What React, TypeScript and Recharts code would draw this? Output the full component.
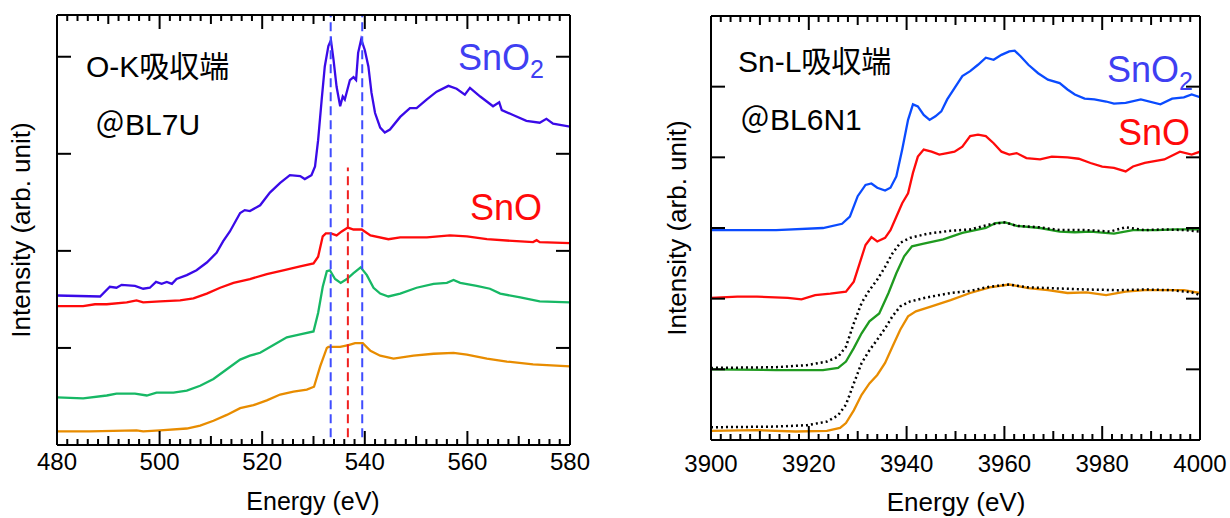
import { Line, LineChart, ReferenceLine, XAxis, YAxis } from "recharts";

const FONT = '"Liberation Sans", Arial, "Noto Sans CJK JP", sans-serif';
const INK = "#000";

// ---- O-K edge (left) ----
const OK_X_DOMAIN = [480, 580];
const OK_Y_DOMAIN = [0, 4.43];
const OK_Y_TICKS = [1, 2, 3, 4];
const OK_SNO2_PEAKS = [533.35, 539.5];
const OK_SNO_PEAK = 536.7;

const okSnO2: [number, number][] = [
  [480, 1.54], [488.4, 1.53], [490.3, 1.63], [491.6, 1.62], [492.6, 1.65], [495.2, 1.64], [496.8, 1.61],
  [498.1, 1.62], [499.3, 1.68], [500.4, 1.66], [501.4, 1.68], [502.4, 1.66], [503.3, 1.71], [505.3, 1.75],
  [507.2, 1.8], [509.2, 1.88], [511.1, 1.98], [512.4, 2.1], [513.7, 2.2], [515.7, 2.39], [516.6, 2.42],
  [517.6, 2.41], [519.6, 2.47], [521.5, 2.6], [523.5, 2.7], [525.4, 2.78], [527.4, 2.77], [528.3, 2.74],
  [529.6, 2.78], [530.3, 2.87], [530.9, 3.14], [531.6, 3.56], [532.2, 3.9], [532.9, 4.11], [533.4, 4.17],
  [533.9, 3.97], [534.5, 3.69], [535.2, 3.49], [535.7, 3.59], [536.1, 3.56], [537.1, 3.76], [537.8, 3.79],
  [538.3, 3.76], [538.7, 4.04], [539.3, 4.18], [540.0, 4.07], [540.7, 3.9], [541.3, 3.63], [542.0, 3.42],
  [543.0, 3.27], [543.9, 3.22], [544.9, 3.25], [546.9, 3.38], [548.8, 3.47], [550.1, 3.47], [552.1, 3.56],
  [554.0, 3.64], [556.3, 3.7], [557.9, 3.67], [559.5, 3.61], [560.5, 3.68], [562.5, 3.59], [565.0, 3.49],
  [566.2, 3.53], [566.7, 3.45], [568.9, 3.4], [571.5, 3.34], [574.1, 3.32], [575.4, 3.36], [576.7, 3.31],
  [580, 3.28],
];
const okSnO: [number, number][] = [
  [480, 1.43], [485.1, 1.43], [487.4, 1.45], [489.7, 1.45], [493.6, 1.47], [495.5, 1.49], [496.8, 1.47],
  [500.1, 1.48], [504.0, 1.49], [506.6, 1.51], [509.2, 1.56], [511.8, 1.62], [514.4, 1.67], [517.6, 1.71],
  [520.9, 1.76], [524.1, 1.8], [527.4, 1.84], [530.0, 1.87], [530.9, 1.94], [531.8, 2.15], [532.4, 2.18],
  [533.4, 2.18], [534.5, 2.16], [535.5, 2.2], [536.7, 2.24], [537.8, 2.22], [539.4, 2.22], [541.1, 2.16],
  [544.6, 2.12], [546.9, 2.14], [552.1, 2.14], [556.6, 2.16], [559.9, 2.15], [563.8, 2.12], [569.6, 2.1],
  [572.8, 2.09], [573.5, 2.11], [574.1, 2.09], [580, 2.08],
];
const okSampleA: [number, number][] = [
  [480, 0.49], [485.1, 0.48], [489.7, 0.51], [491.6, 0.53], [495.2, 0.53], [497.5, 0.51], [499.4, 0.54],
  [502.7, 0.54], [505.3, 0.56], [507.9, 0.61], [510.5, 0.68], [513.1, 0.78], [515.7, 0.88], [517.6, 0.92],
  [519.6, 0.95], [522.2, 1.03], [524.8, 1.11], [527.4, 1.14], [530.0, 1.17], [530.9, 1.36], [531.8, 1.63],
  [532.6, 1.79], [533.2, 1.8], [534.2, 1.71], [535.3, 1.67], [536.5, 1.71], [537.8, 1.77], [539.2, 1.83],
  [540.4, 1.75], [541.7, 1.62], [543.0, 1.56], [544.6, 1.53], [546.9, 1.56], [550.1, 1.62], [553.4, 1.66],
  [556.0, 1.67], [557.3, 1.7], [558.6, 1.67], [561.8, 1.64], [564.4, 1.61], [566.4, 1.56], [570.3, 1.52],
  [574.1, 1.48], [580, 1.47],
];
const okSampleB: [number, number][] = [
  [480, 0.14], [486.4, 0.14], [495.5, 0.15], [496.8, 0.14], [500.1, 0.15], [505.3, 0.17], [507.9, 0.2],
  [510.5, 0.25], [513.1, 0.31], [515.7, 0.38], [518.3, 0.41], [520.9, 0.46], [523.5, 0.52], [526.1, 0.55],
  [528.7, 0.57], [530.1, 0.6], [531.3, 0.81], [532.6, 1.0], [532.9, 1.01], [535.2, 1.01], [536.8, 1.03],
  [538.1, 1.05], [539.6, 1.05], [541.1, 0.97], [543.0, 0.92], [545.6, 0.89], [549.5, 0.92], [553.4, 0.94],
  [557.3, 0.95], [559.9, 0.93], [563.8, 0.89], [567.7, 0.86], [572.8, 0.83], [580, 0.81],
];

// ---- Sn-L edge (right) ----
const SNL_X_DOMAIN = [3900, 4000];
const SNL_Y_DOMAIN = [0, 6];
const SNL_Y_TICKS = [1, 2, 3, 4, 5];

const snlSnO2: [number, number][] = [
  [3900, 2.97], [3913.3, 2.97], [3922.9, 3.0], [3926.8, 3.06], [3928.4, 3.16], [3930, 3.45], [3931.6, 3.61],
  [3932.8, 3.63], [3934, 3.57], [3935.6, 3.53], [3936.7, 3.57], [3937.9, 3.73], [3939.1, 4.11], [3940.3, 4.53],
  [3941.3, 4.75], [3942.3, 4.72], [3943.5, 4.6], [3944.7, 4.53], [3945.9, 4.58], [3947.1, 4.65], [3948.3, 4.82],
  [3949.8, 4.98], [3951.4, 5.15], [3953, 5.22], [3954.6, 5.31], [3956.2, 5.41], [3957.8, 5.38], [3959.4, 5.45],
  [3961, 5.5], [3962.1, 5.51], [3963.3, 5.43], [3964.9, 5.31], [3966.9, 5.19], [3968.9, 5.1], [3971.3, 5.05],
  [3972.9, 4.96], [3974.4, 4.89], [3976.4, 4.83], [3978.4, 4.82], [3980.8, 4.79], [3982.4, 4.76], [3984.8, 4.77],
  [3987.9, 4.82], [3991.9, 4.75], [3994.3, 4.83], [3996.7, 4.85], [3998.3, 4.89], [4000, 4.85],
];
const snlSnO: [number, number][] = [
  [3900, 2.01], [3905.4, 2.03], [3909.4, 2.03], [3915.7, 2.01], [3918.5, 1.99], [3921.3, 2.05], [3924.4, 2.07],
  [3927.6, 2.1], [3929.2, 2.24], [3930.4, 2.5], [3931.6, 2.76], [3932.8, 2.87], [3934, 2.81], [3935.6, 2.86],
  [3936.7, 2.97], [3937.9, 3.16], [3939.1, 3.35], [3940.3, 3.49], [3941.3, 3.78], [3942.3, 4.01], [3943.5, 4.11],
  [3945.1, 4.08], [3946.7, 4.04], [3948.3, 4.06], [3949.8, 4.08], [3951.4, 4.15], [3953, 4.3], [3954.6, 4.32],
  [3956.2, 4.3], [3957.8, 4.2], [3959.4, 4.08], [3961, 4.04], [3962.5, 4.06], [3964.5, 3.99], [3967.3, 3.97],
  [3969.7, 4.01], [3972.9, 4.0], [3975.2, 3.98], [3977.6, 3.92], [3980, 3.87], [3982.4, 3.85], [3984.8, 3.8],
  [3986.3, 3.87], [3988.7, 3.92], [3992.7, 3.97], [3995.9, 4.08], [3998.3, 4.04], [4000, 4.08],
];
const snlSampleA: [number, number][] = [
  [3900, 1.0], [3913.3, 0.99], [3922.9, 0.99], [3926, 1.02], [3927.6, 1.11], [3929.2, 1.3], [3930.8, 1.51],
  [3932.4, 1.68], [3934.4, 1.79], [3936.3, 2.08], [3937.9, 2.36], [3939.5, 2.6], [3941.1, 2.74], [3943.5, 2.78],
  [3947.5, 2.84], [3951.4, 2.93], [3956.2, 3.0], [3958.2, 3.07], [3960.2, 3.08], [3962.5, 3.03], [3967.3, 3.0],
  [3971.3, 2.95], [3974.4, 2.94], [3977.6, 2.95], [3982.4, 2.92], [3986.3, 2.97], [3991.1, 2.97], [3995.1, 2.98],
  [4000, 2.98],
];
const snlRefA: [number, number][] = [
  [3900, 1.02], [3913.3, 1.03], [3919.7, 1.06], [3923.7, 1.11], [3926, 1.18], [3927.6, 1.32], [3929.2, 1.65],
  [3930.8, 1.94], [3932.4, 2.12], [3934, 2.27], [3935.6, 2.45], [3937.1, 2.64], [3938.7, 2.79], [3940.7, 2.86],
  [3944.3, 2.92], [3949, 2.96], [3953, 2.98], [3957, 3.05], [3960.2, 3.08], [3962.5, 3.03], [3967.3, 3.01],
  [3971.3, 2.97], [3976.8, 2.97], [3981.6, 2.95], [3984.8, 3.01], [3988.7, 2.97], [3992.7, 2.98], [3996.7, 2.97],
  [4000, 2.95],
];
const snlSampleB: [number, number][] = [
  [3900, 0.13], [3909.4, 0.14], [3917.3, 0.12], [3923.7, 0.13], [3926.4, 0.17], [3927.6, 0.24], [3929.2, 0.42],
  [3930.8, 0.64], [3932.4, 0.8], [3934, 0.92], [3935.6, 1.09], [3937.1, 1.32], [3938.7, 1.56], [3940.3, 1.75],
  [3941.9, 1.82], [3945.1, 1.89], [3949, 1.98], [3953, 2.08], [3957, 2.16], [3961, 2.2], [3964.9, 2.15],
  [3968.9, 2.12], [3972.9, 2.08], [3976.8, 2.09], [3980.8, 2.05], [3984.8, 2.1], [3988.7, 2.12], [3992.7, 2.12],
  [3996.7, 2.12], [4000, 2.08],
];
const snlRefB: [number, number][] = [
  [3900, 0.18], [3913.3, 0.19], [3919.7, 0.21], [3923.7, 0.26], [3926, 0.35], [3927.6, 0.5], [3929.2, 0.8],
  [3930.8, 1.09], [3932.4, 1.27], [3934, 1.42], [3935.6, 1.58], [3937.1, 1.75], [3938.7, 1.89], [3940.7, 1.96],
  [3944.3, 2.02], [3949, 2.08], [3953, 2.11], [3957, 2.17], [3961, 2.2], [3964.9, 2.16], [3968.9, 2.15],
  [3976.8, 2.13], [3983.2, 2.12], [3988.7, 2.13], [3994.3, 2.12], [3998.3, 2.09], [4000, 2.05],
];

const pts = (arr: [number, number][]) => arr.map(([e, v]) => ({ e, v }));
const everyTwo = (from: number, to: number) => {
  const out: number[] = [];
  for (let t = from; t <= to; t += 2) out.push(t);
  return out;
};

// inward ticks: long every 20 eV, medium every 10, short every 2
const tickLen = (v: number) => (v % 20 === 0 ? 14 : v % 10 === 0 ? 9 : 6);

const bottomTick = (gap: number) => (p: any) => {
  const v = p.payload.value;
  return (
    <g>
      <line x1={p.x} x2={p.x} y1={p.y} y2={p.y - tickLen(v)} stroke={INK} strokeWidth={2} />
      {v % 20 === 0 && (
        <text x={p.x} y={p.y + gap} textAnchor="middle" fontSize={24} fontFamily={FONT} fill={INK}>
          {v}
        </text>
      )}
    </g>
  );
};
const topTick = (p: any) => (
  <line x1={p.x} x2={p.x} y1={p.y} y2={p.y + tickLen(p.payload.value)} stroke={INK} strokeWidth={2} />
);
const leftTick = (p: any) => <line x1={p.x} x2={p.x + 14} y1={p.y} y2={p.y} stroke={INK} strokeWidth={2} />;
const rightTick = (p: any) => <line x1={p.x} x2={p.x - 14} y1={p.y} y2={p.y} stroke={INK} strokeWidth={2} />;

const axisLine = { stroke: INK, strokeWidth: 2 };

// axes are 1px thick (Recharts skips axes of zero size); margins make up the rest
function OKEdge() {
  const xt = everyTwo(OK_X_DOMAIN[0], OK_X_DOMAIN[1]);
  return (
    <LineChart width={620} height={518} margin={{ top: 14, right: 49, bottom: 72, left: 56 }}>
      <XAxis xAxisId={0} type="number" dataKey="e" domain={OK_X_DOMAIN} ticks={xt} interval={0} height={1}
        tickSize={0} tickMargin={0} tickLine={false} axisLine={axisLine} tick={bottomTick(25)} allowDataOverflow />
      <XAxis xAxisId="top" orientation="top" type="number" dataKey="e" domain={OK_X_DOMAIN} ticks={xt} interval={0}
        height={1} tickSize={0} tickMargin={0} tickLine={false} axisLine={axisLine} tick={topTick} allowDataOverflow />
      <YAxis yAxisId={0} type="number" domain={OK_Y_DOMAIN} ticks={OK_Y_TICKS} interval={0} width={1} tickSize={0}
        tickMargin={0} tickLine={false} axisLine={axisLine} tick={leftTick} allowDataOverflow />
      <YAxis yAxisId="right" orientation="right" type="number" domain={OK_Y_DOMAIN} ticks={OK_Y_TICKS} interval={0}
        width={1} tickSize={0} tickMargin={0} tickLine={false} axisLine={axisLine} tick={rightTick} allowDataOverflow />
      <Line data={pts(okSampleB)} dataKey="v" stroke="#e88c00" strokeWidth={2.3} dot={false} isAnimationActive={false} />
      <Line data={pts(okSampleA)} dataKey="v" stroke="#17b865" strokeWidth={2.3} dot={false} isAnimationActive={false} />
      <Line data={pts(okSnO)} dataKey="v" stroke="#ff0a0a" strokeWidth={2.3} dot={false} isAnimationActive={false} />
      <Line data={pts(okSnO2)} dataKey="v" stroke="#3a0ae8" strokeWidth={2.3} dot={false} isAnimationActive={false} />
      {OK_SNO2_PEAKS.map((e) => (
        <ReferenceLine key={e} segment={[{ x: e, y: 0.08 }, { x: e, y: 4.43 }]} stroke="#3f4cff" strokeWidth={2}
          strokeDasharray="9 5" ifOverflow="visible" />
      ))}
      <ReferenceLine segment={[{ x: OK_SNO_PEAK, y: 0.08 }, { x: OK_SNO_PEAK, y: 2.86 }]} stroke="#f02020"
        strokeWidth={2} strokeDasharray="9 5" ifOverflow="visible" />
      <text x={86} y={77} fontSize={30} fontFamily={FONT} fill={INK}>O-K吸収端</text>
      <text x={95} y={135} fontSize={30} fontFamily={FONT} fill={INK}>＠BL7U</text>
      <text x={458} y={70} fontSize={36} fontFamily={FONT} fill="#3f3ff2">
        SnO<tspan fontSize={25} dy={8}>2</tspan>
      </text>
      <text x={470} y={220} fontSize={36} fontFamily={FONT} fill="#ff0a0a">SnO</text>
      <text x={313} y={510} fontSize={25} fontFamily={FONT} fill={INK} textAnchor="middle">Energy (eV)</text>
      <text x={30} y={230} fontSize={26} fontFamily={FONT} fill={INK} textAnchor="middle" transform="rotate(-90 30 230)">
        Intensity (arb. unit)
      </text>
    </LineChart>
  );
}

function SnLEdge() {
  const xt = everyTwo(SNL_X_DOMAIN[0], SNL_X_DOMAIN[1]);
  return (
    <LineChart width={610} height={518} margin={{ top: 15, right: 29, bottom: 77, left: 90 }}>
      <XAxis xAxisId={0} type="number" dataKey="e" domain={SNL_X_DOMAIN} ticks={xt} interval={0} height={1}
        tickSize={0} tickMargin={0} tickLine={false} axisLine={axisLine} tick={bottomTick(32)} allowDataOverflow />
      <XAxis xAxisId="top" orientation="top" type="number" dataKey="e" domain={SNL_X_DOMAIN} ticks={xt} interval={0}
        height={1} tickSize={0} tickMargin={0} tickLine={false} axisLine={axisLine} tick={topTick} allowDataOverflow />
      <YAxis yAxisId={0} type="number" domain={SNL_Y_DOMAIN} ticks={SNL_Y_TICKS} interval={0} width={1} tickSize={0}
        tickMargin={0} tickLine={false} axisLine={axisLine} tick={leftTick} allowDataOverflow />
      <YAxis yAxisId="right" orientation="right" type="number" domain={SNL_Y_DOMAIN} ticks={SNL_Y_TICKS} interval={0}
        width={1} tickSize={0} tickMargin={0} tickLine={false} axisLine={axisLine} tick={rightTick} allowDataOverflow />
      <Line data={pts(snlSampleB)} dataKey="v" stroke="#e88c00" strokeWidth={2.3} dot={false} isAnimationActive={false} />
      <Line data={pts(snlRefB)} dataKey="v" stroke="#000" strokeWidth={2.5} strokeDasharray="2 3" dot={false}
        isAnimationActive={false} />
      <Line data={pts(snlSampleA)} dataKey="v" stroke="#1f9a1f" strokeWidth={2.3} dot={false} isAnimationActive={false} />
      <Line data={pts(snlRefA)} dataKey="v" stroke="#000" strokeWidth={2.5} strokeDasharray="2 3" dot={false}
        isAnimationActive={false} />
      <Line data={pts(snlSnO)} dataKey="v" stroke="#ff0a0a" strokeWidth={2.3} dot={false} isAnimationActive={false} />
      <Line data={pts(snlSnO2)} dataKey="v" stroke="#0a4bff" strokeWidth={2.3} dot={false} isAnimationActive={false} />
      <text x={118} y={72} fontSize={30} fontFamily={FONT} fill={INK}>Sn-L吸収端</text>
      <text x={120} y={130} fontSize={30} fontFamily={FONT} fill={INK}>＠BL6N1</text>
      <text x={487} y={82} fontSize={36} fontFamily={FONT} fill="#3f3ff2">
        SnO<tspan fontSize={25} dy={8}>2</tspan>
      </text>
      <text x={498} y={145} fontSize={36} fontFamily={FONT} fill="#ff0a0a">SnO</text>
      <text x={336} y={511} fontSize={26} fontFamily={FONT} fill={INK} textAnchor="middle">Energy (eV)</text>
      <text x={66} y={228} fontSize={26} fontFamily={FONT} fill={INK} textAnchor="middle" transform="rotate(-90 66 228)">
        Intensity (arb. unit)
      </text>
    </LineChart>
  );
}

export default function App() {
  return (
    <div style={{ position: "absolute", left: 0, top: 0, width: 1230, height: 518, background: "#fff" }}>
      <div style={{ position: "absolute", left: 0, top: 0 }}>
        <OKEdge />
      </div>
      <div style={{ position: "absolute", left: 620, top: 0 }}>
        <SnLEdge />
      </div>
    </div>
  );
}
